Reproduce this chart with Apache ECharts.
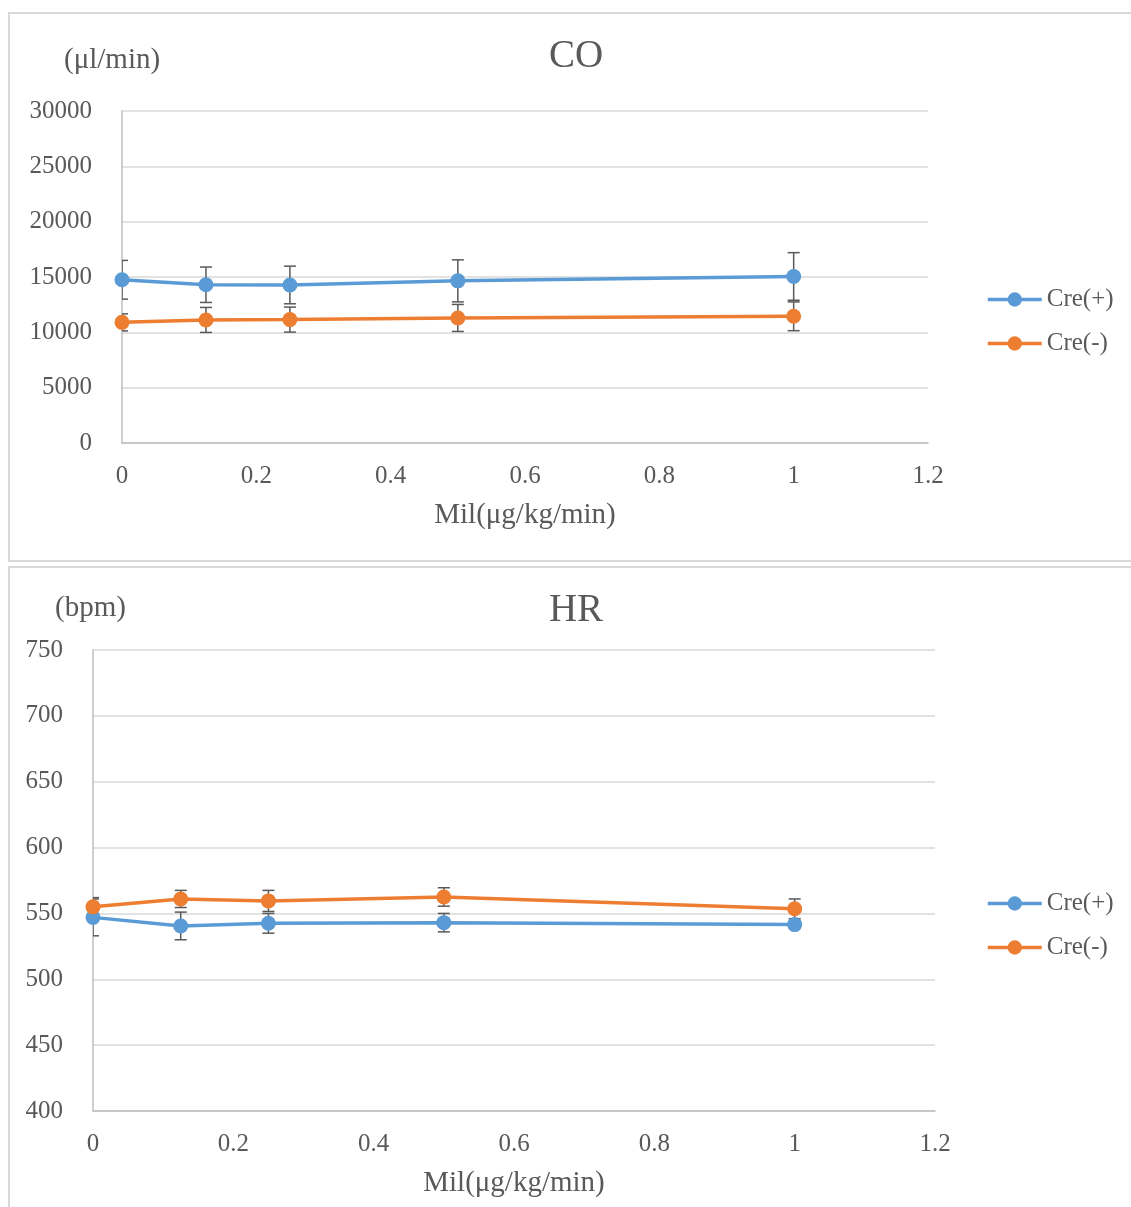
<!DOCTYPE html>
<html>
<head>
<meta charset="utf-8">
<title>CO / HR</title>
<script src="https://cdn.jsdelivr.net/npm/echarts@6/dist/echarts.min.js"></script>
<style>
  html, body { margin: 0; padding: 0; background: #fff; }
  #chart { width: 1131px; height: 1207px; }
</style>
</head>
<body>
<div id="chart"></div>
<script>
// Milrinone dose (μg/kg/min)
const doses = [0, 0.125, 0.25, 0.5, 1];
const xTicks = [0, 0.2, 0.4, 0.6, 0.8, 1, 1.2];
const seriesNames = ['Cre(+)', 'Cre(-)'];

// Cardiac output (μl/min), mean and error
const coCrePlus = [14750, 14300, 14280, 14650, 15050];
const coCrePlusErr = [1750, 1600, 1700, 1900, 2150];
const coCreMinus = [10900, 11120, 11150, 11300, 11450];
const coCreMinusErr = [770, 1130, 1130, 1220, 1300];

// Heart rate (bpm), mean and error
const hrCrePlus = [547, 540.5, 542.5, 543, 541.5];
const hrCrePlusErr = [14, 10.5, 7.5, 7, 3];
const hrCreMinus = [555, 561, 559.5, 562.5, 553.5];
const hrCreMinusErr = [7, 6.5, 8, 7, 7.5];

const FONT = '"Liberation Serif", "Times New Roman", serif';
const TEXT = '#595959';
const BLUE = '#5B9BD5';
const ORANGE = '#ED7D31';
const GRID_LINE = '#D9D9D9';

const chart = echarts.init(document.getElementById('chart'), null, { renderer: 'canvas' });

function pairs(xs, ys) { return xs.map((x, i) => [x, ys[i]]); }
function errPairs(xs, ys, es) { return xs.map((x, i) => [x, ys[i] - es[i], ys[i] + es[i]]); }

// vertical error bar with caps
function renderErr(params, api) {
  const x = api.value(0);
  const lo = api.coord([x, api.value(1)]);
  const hi = api.coord([x, api.value(2)]);
  const cap = 6;
  const st = { stroke: '#595959', lineWidth: 1.5 };
  return {
    type: 'group',
    children: [
      { type: 'line', shape: { x1: lo[0], y1: lo[1], x2: hi[0], y2: hi[1] }, style: st },
      { type: 'line', shape: { x1: lo[0] - cap, y1: lo[1], x2: lo[0] + cap, y2: lo[1] }, style: st },
      { type: 'line', shape: { x1: hi[0] - cap, y1: hi[1], x2: hi[0] + cap, y2: hi[1] }, style: st }
    ]
  };
}

function lineSeries(name, color, data, idx) {
  return {
    name: name, type: 'line', xAxisIndex: idx, yAxisIndex: idx,
    data: data, symbol: 'circle', symbolSize: 15, z: 3,
    lineStyle: { color: color, width: 3.5 },
    itemStyle: { color: color },
    emphasis: { disabled: true }
  };
}

function errSeries(name, data, idx) {
  return {
    name: name + ' error', type: 'custom', xAxisIndex: idx, yAxisIndex: idx,
    data: data, renderItem: renderErr, clip: true, z: 2, silent: true
  };
}

function xAxisCfg(idx) {
  return {
    type: 'value', gridIndex: idx, min: xTicks[0], max: xTicks[xTicks.length - 1], interval: 0.2,
    name: 'Mil(μg/kg/min)', nameLocation: 'middle', nameGap: 58,
    nameTextStyle: { fontFamily: FONT, fontSize: 29, color: TEXT },
    axisLine: { show: true, lineStyle: { color: '#BFBFBF', width: 1.5 } },
    axisTick: { show: false },
    splitLine: { show: false },
    axisLabel: { fontFamily: FONT, fontSize: 25, color: TEXT, margin: 21 }
  };
}

function yAxisCfg(idx, min, max, interval) {
  return {
    type: 'value', gridIndex: idx, min: min, max: max, interval: interval,
    axisLine: { show: true, lineStyle: { color: '#BFBFBF', width: 1.5 } },
    axisTick: { show: false },
    splitLine: { show: true, lineStyle: { color: GRID_LINE, width: 1.5 } },
    axisLabel: { fontFamily: FONT, fontSize: 25, color: TEXT, margin: 30, formatter: v => String(v) }
  };
}

function legendCfg(top) {
  return {
    data: seriesNames, orient: 'vertical', left: 986, top: top, padding: 0,
    itemWidth: 54, itemHeight: 18, itemGap: 19,
    lineStyle: { width: 3.5 },
    textStyle: { fontFamily: FONT, fontSize: 25, color: TEXT },
    selectedMode: false
  };
}

function text(x, y, str, size, align) {
  return {
    type: 'text', x: x, y: y,
    style: { text: str, fontFamily: FONT, fontSize: size, fill: TEXT, align: align, verticalAlign: 'middle' }
  };
}

const option = {
  backgroundColor: '#fff',
  animation: false,
  grid: [
    { left: 122, top: 111, width: 806, height: 332 },
    { left: 93, top: 650, width: 842, height: 461 }
  ],
  xAxis: [xAxisCfg(0), xAxisCfg(1)],
  yAxis: [yAxisCfg(0, 0, 30000, 5000), yAxisCfg(1, 400, 750, 50)],
  legend: [legendCfg(287), legendCfg(891)],
  graphic: [
    { type: 'rect', shape: { x: 9, y: 13, width: 1140, height: 548 }, style: { fill: 'none', stroke: '#D9D9D9', lineWidth: 2 }, z: -1 },
    { type: 'rect', shape: { x: 9, y: 567, width: 1140, height: 700 }, style: { fill: 'none', stroke: '#D9D9D9', lineWidth: 2 }, z: -1 },
    text(576, 57, 'CO', 39, 'center'),
    text(64, 60, '(μl/min)', 29, 'left'),
    text(576, 611, 'HR', 39, 'center'),
    text(55, 608, '(bpm)', 29, 'left')
  ],
  series: [
    errSeries(seriesNames[0], errPairs(doses, coCrePlus, coCrePlusErr), 0),
    errSeries(seriesNames[1], errPairs(doses, coCreMinus, coCreMinusErr), 0),
    lineSeries(seriesNames[0], BLUE, pairs(doses, coCrePlus), 0),
    lineSeries(seriesNames[1], ORANGE, pairs(doses, coCreMinus), 0),
    errSeries(seriesNames[0], errPairs(doses, hrCrePlus, hrCrePlusErr), 1),
    errSeries(seriesNames[1], errPairs(doses, hrCreMinus, hrCreMinusErr), 1),
    lineSeries(seriesNames[0], BLUE, pairs(doses, hrCrePlus), 1),
    lineSeries(seriesNames[1], ORANGE, pairs(doses, hrCreMinus), 1)
  ]
};

chart.setOption(option);
</script>
</body>
</html>
